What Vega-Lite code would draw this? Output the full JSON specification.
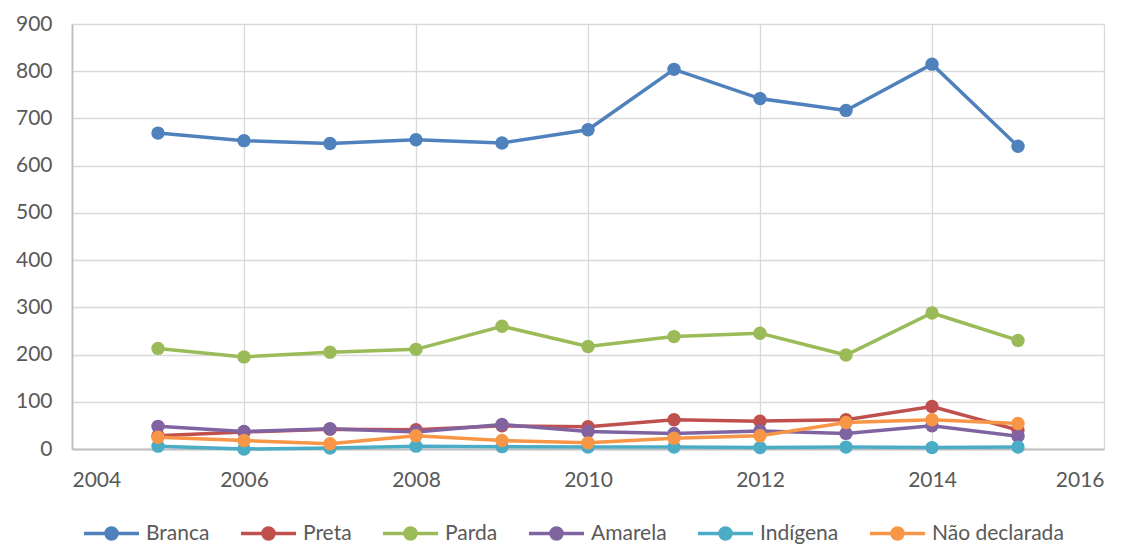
{
  "$schema": "https://vega.github.io/schema/vega-lite/v6.json",
  "autosize": "none",
  "width": 1032,
  "height": 425,
  "padding": {"left": 72, "top": 24, "right": 26, "bottom": 96},
  "config": {
    "font": "Lato",
    "view": {"stroke": null},
    "axis": {"labelFont": "Lato", "labelFontSize": 21, "labelColor": "#595959", "gridColor": "#d9d9d9", "gridWidth": 1.3, "ticks": false, "title": null, "domainColor": "#bfbfbf", "domainWidth": 1.8}
  },
  "data": {"values": [
    {"ano": 2005, "grupo": "Branca", "v": 669}, {"ano": 2006, "grupo": "Branca", "v": 653}, {"ano": 2007, "grupo": "Branca", "v": 647}, {"ano": 2008, "grupo": "Branca", "v": 655}, {"ano": 2009, "grupo": "Branca", "v": 648}, {"ano": 2010, "grupo": "Branca", "v": 676}, {"ano": 2011, "grupo": "Branca", "v": 804}, {"ano": 2012, "grupo": "Branca", "v": 742}, {"ano": 2013, "grupo": "Branca", "v": 717}, {"ano": 2014, "grupo": "Branca", "v": 815}, {"ano": 2015, "grupo": "Branca", "v": 641},
    {"ano": 2005, "grupo": "Preta", "v": 28}, {"ano": 2006, "grupo": "Preta", "v": 36}, {"ano": 2007, "grupo": "Preta", "v": 42}, {"ano": 2008, "grupo": "Preta", "v": 41}, {"ano": 2009, "grupo": "Preta", "v": 49}, {"ano": 2010, "grupo": "Preta", "v": 47}, {"ano": 2011, "grupo": "Preta", "v": 62}, {"ano": 2012, "grupo": "Preta", "v": 59}, {"ano": 2013, "grupo": "Preta", "v": 62}, {"ano": 2014, "grupo": "Preta", "v": 90}, {"ano": 2015, "grupo": "Preta", "v": 40},
    {"ano": 2005, "grupo": "Parda", "v": 213}, {"ano": 2006, "grupo": "Parda", "v": 195}, {"ano": 2007, "grupo": "Parda", "v": 205}, {"ano": 2008, "grupo": "Parda", "v": 211}, {"ano": 2009, "grupo": "Parda", "v": 260}, {"ano": 2010, "grupo": "Parda", "v": 217}, {"ano": 2011, "grupo": "Parda", "v": 238}, {"ano": 2012, "grupo": "Parda", "v": 245}, {"ano": 2013, "grupo": "Parda", "v": 199}, {"ano": 2014, "grupo": "Parda", "v": 288}, {"ano": 2015, "grupo": "Parda", "v": 230},
    {"ano": 2005, "grupo": "Amarela", "v": 48}, {"ano": 2006, "grupo": "Amarela", "v": 37}, {"ano": 2007, "grupo": "Amarela", "v": 43}, {"ano": 2008, "grupo": "Amarela", "v": 36}, {"ano": 2009, "grupo": "Amarela", "v": 52}, {"ano": 2010, "grupo": "Amarela", "v": 37}, {"ano": 2011, "grupo": "Amarela", "v": 33}, {"ano": 2012, "grupo": "Amarela", "v": 38}, {"ano": 2013, "grupo": "Amarela", "v": 33}, {"ano": 2014, "grupo": "Amarela", "v": 49}, {"ano": 2015, "grupo": "Amarela", "v": 27},
    {"ano": 2005, "grupo": "Indígena", "v": 6}, {"ano": 2006, "grupo": "Indígena", "v": 0}, {"ano": 2007, "grupo": "Indígena", "v": 2}, {"ano": 2008, "grupo": "Indígena", "v": 6}, {"ano": 2009, "grupo": "Indígena", "v": 5}, {"ano": 2010, "grupo": "Indígena", "v": 4}, {"ano": 2011, "grupo": "Indígena", "v": 4}, {"ano": 2012, "grupo": "Indígena", "v": 3}, {"ano": 2013, "grupo": "Indígena", "v": 4}, {"ano": 2014, "grupo": "Indígena", "v": 3}, {"ano": 2015, "grupo": "Indígena", "v": 4},
    {"ano": 2005, "grupo": "Não declarada", "v": 25}, {"ano": 2006, "grupo": "Não declarada", "v": 18}, {"ano": 2007, "grupo": "Não declarada", "v": 11}, {"ano": 2008, "grupo": "Não declarada", "v": 28}, {"ano": 2009, "grupo": "Não declarada", "v": 18}, {"ano": 2010, "grupo": "Não declarada", "v": 13}, {"ano": 2011, "grupo": "Não declarada", "v": 23}, {"ano": 2012, "grupo": "Não declarada", "v": 28}, {"ano": 2013, "grupo": "Não declarada", "v": 56}, {"ano": 2014, "grupo": "Não declarada", "v": 62}, {"ano": 2015, "grupo": "Não declarada", "v": 54}
  ]},
  "mark": {"type": "line", "strokeWidth": 3.5, "point": {"filled": true, "size": 180, "opacity": 1}},
  "encoding": {
    "x": {"field": "ano", "type": "quantitative", "scale": {"domain": [2004, 2016], "nice": false, "zero": false},
      "axis": {"values": [2004, 2006, 2008, 2010, 2012, 2014, 2016], "format": "d", "labelPadding": 20}},
    "y": {"field": "v", "type": "quantitative", "scale": {"domain": [0, 900], "nice": false},
      "axis": {"values": [0, 100, 200, 300, 400, 500, 600, 700, 800, 900], "labelPadding": 20}},
    "color": {"field": "grupo", "type": "nominal",
      "scale": {"domain": ["Branca", "Preta", "Parda", "Amarela", "Indígena", "Não declarada"], "range": ["#4F81BD", "#C0504D", "#9BBB59", "#8064A2", "#4BACC6", "#F79646"]},
      "legend": {"title": null, "orient": "none", "direction": "horizontal", "legendX": 10, "legendY": 480, "labelFontSize": 21, "labelColor": "#595959", "labelFont": "Lato", "columnPadding": 24, "labelOffset": 5,
        "symbolType": "M-1,0H1M-0.2,0A0.2,0.2 0 1,1 0.2,0A0.2,0.2 0 1,1 -0.2,0", "symbolSize": 3025, "symbolStrokeWidth": 3.5}}
  }
}
